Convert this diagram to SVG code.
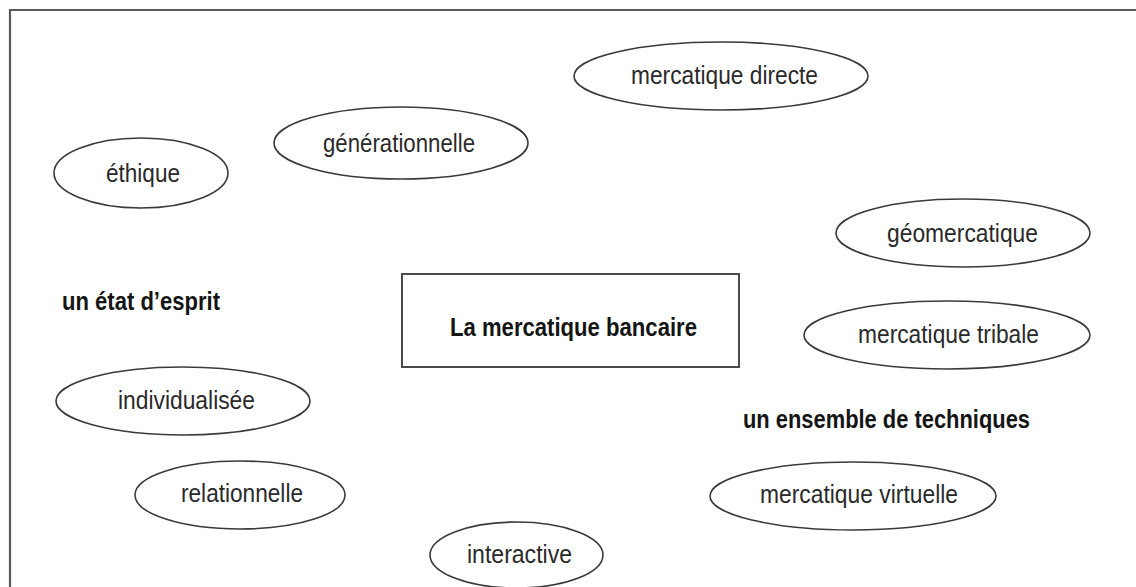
<svg xmlns="http://www.w3.org/2000/svg" width="1136" height="587" viewBox="0 0 1136 587">
  <style>
    .frame { fill: none; stroke: #5a5a5a; stroke-width: 2.2; }
    .oval { fill: #ffffff; stroke: #3a3a3a; stroke-width: 1.6; }
    .box { fill: #ffffff; stroke: #4a4a4a; stroke-width: 2; }
    .lbl { font-family: "Liberation Sans", Arial, sans-serif; font-size: 25px; fill: #2a2a2a; text-anchor: start; }
    .title { font-family: "Liberation Sans", Arial, sans-serif; font-size: 25px; font-weight: bold; fill: #151515; }
  </style>

  <rect width="1136" height="587" fill="#ffffff"/>

  <!-- outer frame: top and left edges only -->
  <path class="frame" d="M10,587 V10 H1136"/>

  <!-- no connectors in this map -->
  <g id="connectors"/>

  <g id="mercatique-directe">
    <ellipse class="oval" cx="721" cy="76" rx="147" ry="34"/>
    <text class="lbl" x="631" y="84" textLength="187" lengthAdjust="spacingAndGlyphs">mercatique directe</text>
  </g>

  <g id="generationnelle">
    <ellipse class="oval" cx="401" cy="143" rx="127" ry="36"/>
    <text class="lbl" x="323" y="152" textLength="152" lengthAdjust="spacingAndGlyphs">générationnelle</text>
  </g>

  <g id="ethique">
    <ellipse class="oval" cx="141" cy="173" rx="87" ry="35"/>
    <text class="lbl" x="106" y="182" textLength="74" lengthAdjust="spacingAndGlyphs">éthique</text>
  </g>

  <g id="geomercatique">
    <ellipse class="oval" cx="963" cy="233" rx="127" ry="34"/>
    <text class="lbl" x="887" y="242" textLength="151" lengthAdjust="spacingAndGlyphs">géomercatique</text>
  </g>

  <g id="etat-d-esprit">
    <text class="title" x="62" y="310" textLength="158" lengthAdjust="spacingAndGlyphs">un état d’esprit</text>
  </g>

  <g id="mercatique-bancaire">
    <rect class="box" x="402" y="274" width="337" height="93"/>
    <text class="title" x="450" y="336" textLength="247" lengthAdjust="spacingAndGlyphs">La mercatique bancaire</text>
  </g>

  <g id="mercatique-tribale">
    <ellipse class="oval" cx="947" cy="335" rx="143" ry="34"/>
    <text class="lbl" x="858" y="343" textLength="181" lengthAdjust="spacingAndGlyphs">mercatique tribale</text>
  </g>

  <g id="individualisee">
    <ellipse class="oval" cx="183" cy="401" rx="127" ry="34"/>
    <text class="lbl" x="118" y="409" textLength="137" lengthAdjust="spacingAndGlyphs">individualisée</text>
  </g>

  <g id="ensemble-de-techniques">
    <text class="title" x="743" y="428" textLength="287" lengthAdjust="spacingAndGlyphs">un ensemble de techniques</text>
  </g>

  <g id="relationnelle">
    <ellipse class="oval" cx="240" cy="495" rx="105" ry="34"/>
    <text class="lbl" x="181" y="502" textLength="122" lengthAdjust="spacingAndGlyphs">relationnelle</text>
  </g>

  <g id="mercatique-virtuelle">
    <ellipse class="oval" cx="853" cy="496" rx="143" ry="34"/>
    <text class="lbl" x="760" y="503" textLength="198" lengthAdjust="spacingAndGlyphs">mercatique virtuelle</text>
  </g>

  <g id="interactive">
    <ellipse class="oval" cx="516.5" cy="555" rx="86.5" ry="33"/>
    <text class="lbl" x="467" y="563" textLength="105" lengthAdjust="spacingAndGlyphs">interactive</text>
  </g>
</svg>
